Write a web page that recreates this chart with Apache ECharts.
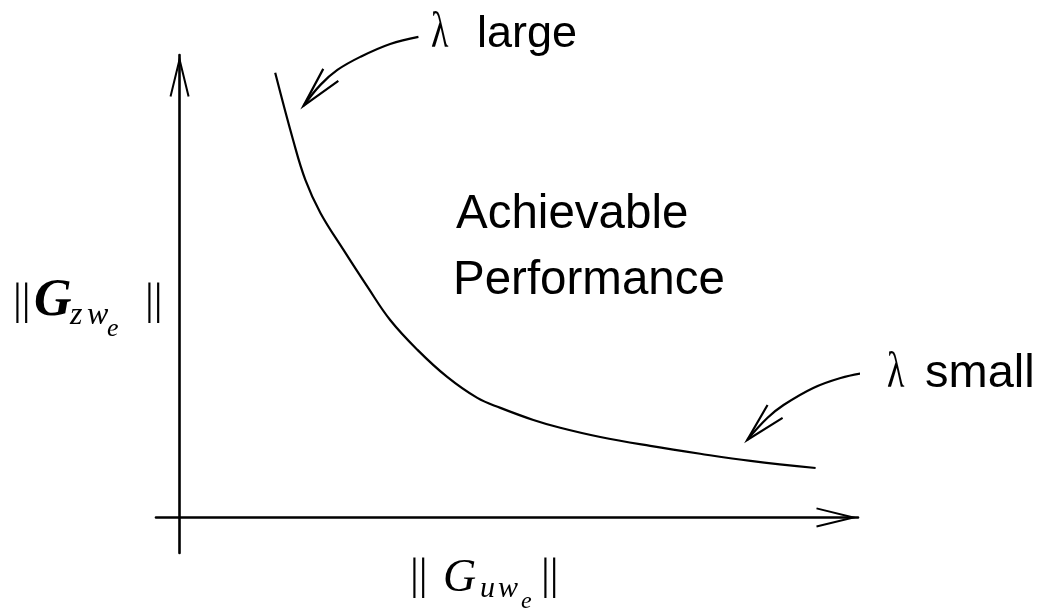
<!DOCTYPE html>
<html>
<head>
<meta charset="utf-8">
<script src="https://cdn.jsdelivr.net/npm/echarts@6/dist/echarts.min.js"></script>
<style>
  html, body { margin: 0; padding: 0; background: #ffffff; }
  #chart { width: 1050px; height: 609px; }
</style>
</head>
<body>
<div id="chart"></div>
<script>
// ---- Data (abstract units: x = ||G_uwe||, y = ||G_zwe||) ----
const curveX = [2.03, 2.41, 2.67, 2.99, 3.48, 3.99, 4.47, 5.05, 5.68, 6.32, 6.81, 7.51, 8.08, 8.93, 9.99, 11.05, 12.12, 13.50];
const curveY = [12.50, 10.61, 9.49, 8.56, 7.52, 6.48, 5.55, 4.71, 3.95, 3.36, 3.08, 2.74, 2.52, 2.26, 2.01, 1.79, 1.59, 1.39];

// "lambda large" pointer: shaft and head
const largeShaftX = [5.07, 4.47, 3.84, 3.35, 2.99, 2.63];
const largeShaftY = [13.51, 13.31, 12.95, 12.58, 12.16, 11.57];
const largeHeadX = [3.05, 2.63, 3.37];
const largeHeadY = [12.61, 11.57, 12.27];

// "lambda small" pointer: shaft and head
const smallShaftX = [14.52, 14.03, 13.45, 12.82, 12.48, 12.05];
const smallShaftY = [4.06, 3.92, 3.64, 3.16, 2.80, 2.18];
const smallHeadX = [12.48, 12.05, 12.80];
const smallHeadY = [3.16, 2.18, 2.80];

const xRange = [-0.5, 14.4];
const yRange = [-1, 13];

function zip(xs, ys) { return xs.map((x, i) => [x, ys[i]]); }

const chevron = 'path://M10,0 L20,41 L18.06,41.47 L10,8.4 L1.94,41.47 L0,41 Z';

const chart = echarts.init(document.getElementById('chart'), null, { renderer: 'canvas' });

const sans = '"Liberation Sans", Arial, Helvetica, sans-serif';
const serif = '"Liberation Serif", "Times New Roman", Times, serif';

function txt(text, x, baseline, size, family, extra, scaleX) {
  return {
    type: 'text',
    x: x,
    y: baseline - 0.3465 * size,
    scaleX: scaleX || 1,
    z: 10,
    style: {
      text: text,
      font: (extra || '') + ' ' + size + 'px ' + family,
      fill: '#000',
      verticalAlign: 'middle',
      align: 'left'
    }
  };
}

const lineCommon = {
  type: 'line',
  showSymbol: false,
  symbol: 'none',
  clip: false,
  silent: true,
  animation: false
};

const option = {
  backgroundColor: '#ffffff',
  animation: false,
  grid: { left: 156, top: 55, width: 702, height: 498, containLabel: false },
  xAxis: {
    type: 'value', min: xRange[0], max: xRange[1],
    axisLine: {
      show: true, onZero: true,
      symbol: ['none', chevron], symbolSize: [20, 42], symbolOffset: [0, -21],
      lineStyle: { color: '#000', width: 2.6 }
    },
    axisTick: { show: false }, axisLabel: { show: false }, splitLine: { show: false }
  },
  yAxis: {
    type: 'value', min: yRange[0], max: yRange[1],
    axisLine: {
      show: true, onZero: true,
      symbol: ['none', chevron], symbolSize: [20, 42], symbolOffset: [0, -21],
      lineStyle: { color: '#000', width: 2.6 }
    },
    axisTick: { show: false }, axisLabel: { show: false }, splitLine: { show: false }
  },
  series: [
    Object.assign({}, lineCommon, { name: 'tradeoff', data: zip(curveX, curveY), smooth: 0.4, lineStyle: { color: '#000', width: 2.2 } }),
    Object.assign({}, lineCommon, { name: 'largeShaft', data: zip(largeShaftX, largeShaftY), smooth: 0.4, lineStyle: { color: '#000', width: 2.2 } }),
    Object.assign({}, lineCommon, { name: 'largeHead', data: zip(largeHeadX, largeHeadY), smooth: false, lineStyle: { color: '#000', width: 2.2, join: 'miter' } }),
    Object.assign({}, lineCommon, { name: 'smallShaft', data: zip(smallShaftX, smallShaftY), smooth: 0.4, lineStyle: { color: '#000', width: 2.2 } }),
    Object.assign({}, lineCommon, { name: 'smallHead', data: zip(smallHeadX, smallHeadY), smooth: false, lineStyle: { color: '#000', width: 2.2, join: 'miter' } })
  ],
  graphic: [
    txt('Achievable', 456, 231, 47.5, sans),
    txt('Performance', 453, 297, 47.5, sans),
    txt('\u03bb', 431, 51, 50, serif, '', 0.72),
    txt('large', 477, 50, 45, sans),
    txt('\u03bb', 887, 391, 50, serif, '', 0.72),
    txt('small', 925, 390, 47, sans),
    // y-axis label ||G_{z w_e}||
    txt('||', 13, 318, 44, serif),
    txt('G', 34, 320, 52, serif, 'italic bold'),
    txt('z', 70, 327, 32, serif, 'italic'),
    txt('w', 87, 327, 32, serif, 'italic'),
    txt('e', 107, 338, 26, serif, 'italic'),
    txt('||', 145, 318, 44, serif),
    // x-axis label || G_{u w_e} ||
    txt('||', 410, 593, 44, serif),
    txt('G', 443, 595, 46, serif, 'italic'),
    txt('u', 480, 600, 30, serif, 'italic'),
    txt('w', 498, 600, 30, serif, 'italic'),
    txt('e', 521, 610, 24, serif, 'italic'),
    txt('||', 541, 593, 44, serif)
  ]
};

chart.setOption(option);
</script>
</body>
</html>
